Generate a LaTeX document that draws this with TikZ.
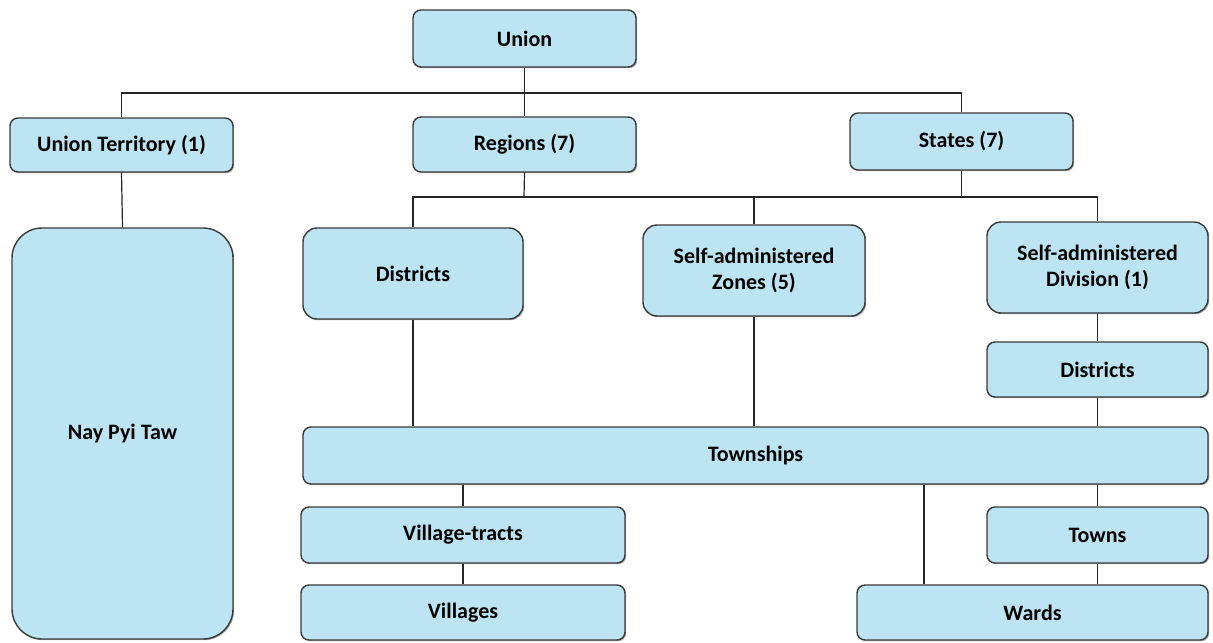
\documentclass[tikz,border=0pt]{standalone}
\usepackage{fontspec}
\setmainfont{Carlito}
\usetikzlibrary{shadows}
\definecolor{boxfill}{HTML}{BCE4F2}
\definecolor{boxline}{HTML}{3A3A3A}
\tikzset{
  orgbox/.style={draw=boxline, line width=0.7pt, fill=boxfill, inner sep=0pt,
    align=center, font=\bfseries\fontsize{11}{13}\selectfont,
    drop shadow={shadow xshift=0.6pt, shadow yshift=-0.6pt, opacity=0.35, fill=black}},
  link/.style={draw=black!85, line width=0.6pt}
}
% \bx{name}{x1}{y1}{x2}{y2}{radius}{text}
\newcommand{\bx}[7]{%
  \node[orgbox, rounded corners=#6*0.5pt,
    minimum width={(#4-#2)*0.5pt}, minimum height={(#5-#3)*0.5pt}]
    (#1) at ({(#2+#4)/2},{(#3+#5)/2}) {#7};}
\begin{document}
\begin{tikzpicture}[x=0.5pt,y=-0.5pt]
\useasboundingbox (0,0) rectangle (1213,642);
\bx{union}{413}{10}{636}{67}{8}{Union}
\bx{ut}{10}{118}{233}{172}{8}{Union Territory (1)}
\bx{regions}{413}{117}{636}{172}{8}{Regions (7)}
\bx{states}{850}{113}{1073}{170}{8}{States (7)}
\bx{npt}{12}{228}{233}{639}{30}{Nay Pyi Taw}
\bx{districts}{303}{228}{523}{319}{14}{Districts}
\bx{saz}{643}{225}{865}{316}{14}{Self-administered\\Zones (5)}
\bx{sad}{987}{222}{1208}{313}{14}{Self-administered\\Division (1)}
\bx{districtsr}{987}{342}{1208}{397}{8}{Districts}
\bx{townships}{303}{427}{1208}{484}{8}{Townships}
\bx{vtracts}{301}{507}{625}{563}{8}{Village-tracts}
\bx{villages}{301}{585}{625}{640}{8}{Villages}
\bx{towns}{987}{507}{1208}{563}{8}{Towns}
\bx{wards}{857}{585}{1208}{640}{8}{Wards}
\coordinate (bus1) at (524,93);
\coordinate (bus2) at (524,197);
\coordinate (tw) at (924,0);
\path[link] (union.south) -- (regions.north);
\path[link] (ut.north) |- (bus1) -| (states.north);
\path[link] (ut.south) -- (npt.north);
\path[link] (regions.south) -- (bus2);
\path[link] (states.south) -- (states.south |- bus2);
\path[link] (districts.north) |- (bus2) -| (sad.north);
\path[link] (saz.north) -- (saz.north |- bus2);
\path[link] (districts.south) -- (districts.south |- townships.north);
\path[link] (saz.south) -- (saz.south |- townships.north);
\path[link] (sad.south) -- (districtsr.north);
\path[link] (districtsr.south) -- (districtsr.south |- townships.north);
\path[link] (vtracts.north |- townships.south) -- (vtracts.north);
\path[link] (vtracts.south) -- (villages.north);
\path[link] (towns.north |- townships.south) -- (towns.north);
\path[link] (towns.south) -- (towns.south |- wards.north);
\path[link] (tw |- townships.south) -- (tw |- wards.north);
\end{tikzpicture}
\end{document}
